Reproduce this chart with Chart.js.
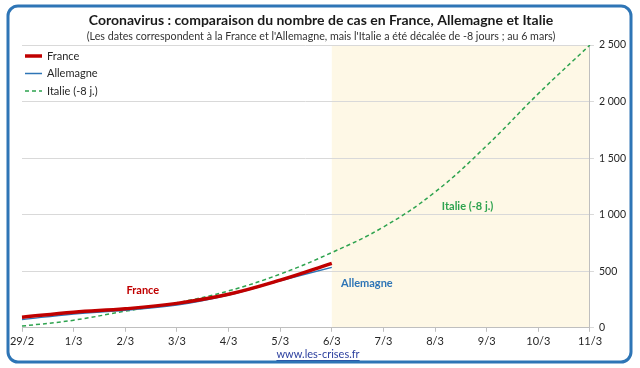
<!DOCTYPE html>
<html>
<head>
<meta charset="utf-8">
<script src="https://cdn.jsdelivr.net/npm/chart.js@4.4.1/dist/chart.umd.min.js"></script>
<style>
  html, body { margin: 0; padding: 0; background: #fff; }
  #wrap { position: relative; width: 640px; height: 368px; }
</style>
</head>
<body>
<div id="wrap"><canvas id="chart" width="640" height="368"></canvas></div>
<script>
const dates = ['29/2', '1/3', '2/3', '3/3', '4/3', '5/3', '6/3', '7/3', '8/3', '9/3', '10/3', '11/3'];
const france = [94, 138, 168, 216, 296, 421, 570];
const allemagne = [73, 123, 156, 201, 290, 415, 534];
const italie = [15, 67, 147, 221, 326, 475, 665, 891, 1200, 1610, 2070, 2500];
const yTicks = [0, 500, 1000, 1500, 2000, 2500];

const FONT = 'Lato, "Noto Sans", sans-serif';
const shadeFrom = 6; // index from which the background is shaded

const title = 'Coronavirus : comparaison du nombre de cas en France, Allemagne et Italie';
const subtitle = "(Les dates correspondent à la France et l'Allemagne, mais l'Italie a été décalée de -8 jours ; au 6 mars)";

// labels written next to the curves: [text, index, value, color]
const curveLabels = [
    ['France', 2.34, 330, '#C00000'],
    ['Allemagne', 6.68, 393, '#2E75B6'],
    ['Italie (-8 j.)', 8.63, 1071, '#2EA34F']
];

const decor = {
    id: 'decor',
    beforeDraw(chart) {
        const ctx = chart.ctx;
        const area = chart.chartArea;
        const x0 = chart.scales.x.getPixelForValue(shadeFrom);
        ctx.save();
        ctx.fillStyle = '#FEF8E6';
        ctx.fillRect(x0, area.top, area.right - x0, area.bottom - area.top);
        ctx.restore();
    },
    afterDraw(chart) {
        const ctx = chart.ctx;
        const xs = chart.scales.x;
        const ys = chart.scales.y;
        const area = chart.chartArea;
        ctx.save();
        ctx.textBaseline = 'middle';
        ctx.textAlign = 'center';

        // titles
        ctx.fillStyle = '#1a1a1a';
        ctx.font = 'bold 14px ' + FONT;
        ctx.fillText(title, 321, 20);
        ctx.fillStyle = '#333';
        ctx.font = '10.7px ' + FONT;
        ctx.fillText(subtitle, 321, 37);

        // legend, top left of the plot
        ctx.font = '11px ' + FONT;
        ctx.textAlign = 'left';
        chart.data.datasets.forEach((ds, i) => {
            const y = area.top + 11 + i * 17.5;
            ctx.strokeStyle = ds.borderColor;
            ctx.lineWidth = ds.borderWidth;
            ctx.setLineDash(ds.borderDash || []);
            ctx.beginPath();
            ctx.moveTo(area.left + 3, y);
            ctx.lineTo(area.left + 20, y);
            ctx.stroke();
            ctx.fillStyle = '#262626';
            ctx.fillText(ds.label, area.left + 25, y);
        });
        ctx.setLineDash([]);

        ctx.font = 'bold 11px ' + FONT;
        ctx.textAlign = 'center';
        curveLabels.forEach(l => {
            ctx.fillStyle = l[3];
            ctx.fillText(l[0], xs.getPixelForValue(l[1]), ys.getPixelForValue(l[2]));
        });

        // footer link
        ctx.font = '11px ' + FONT;
        ctx.fillStyle = '#2B3F9E';
        const t = 'www.les-crises.fr';
        const w = ctx.measureText(t).width;
        ctx.fillText(t, 318, 354);
        ctx.fillRect(318 - w / 2, 360, w, 1);

        // frame
        ctx.strokeStyle = '#2E75B6';
        ctx.lineWidth = 3;
        ctx.beginPath();
        ctx.roundRect(8, 6, 623, 356, 10);
        ctx.stroke();
        ctx.restore();
    }
};

const ctx = document.getElementById('chart').getContext('2d');
const chart = new Chart(ctx, {
    type: 'line',
    data: {
        labels: dates,
        datasets: [{
            label: 'France',
            data: france,
            borderColor: '#C00000',
            backgroundColor: '#C00000',
            borderWidth: 3.5,
            pointRadius: 0,
            tension: 0.4
        }, {
            label: 'Allemagne',
            data: allemagne,
            borderColor: '#2E75B6',
            backgroundColor: '#2E75B6',
            borderWidth: 1.5,
            pointRadius: 0,
            tension: 0.4
        }, {
            label: 'Italie (-8 j.)',
            data: italie,
            borderColor: '#2EA34F',
            backgroundColor: '#2EA34F',
            borderWidth: 1.5,
            borderDash: [4, 3],
            pointRadius: 0,
            tension: 0.4
        }]
    },
    options: {
        responsive: false,
        animation: false,
        layout: {
            padding: { left: 22, right: 9, top: 45, bottom: 17 }
        },
        plugins: {
            legend: { display: false },
            tooltip: { enabled: false }
        },
        scales: {
            x: {
                offset: false,
                grid: { drawOnChartArea: false, tickLength: 4, color: '#BFBFBF' },
                border: { color: '#BFBFBF' },
                ticks: {
                    autoSkip: false,
                    maxRotation: 0,
                    padding: 3,
                    color: '#262626',
                    font: { family: FONT, size: 11 }
                }
            },
            y: {
                position: 'right',
                min: 0,
                max: 2500,
                afterBuildTicks(scale) {
                    scale.ticks = yTicks.map(v => ({ value: v }));
                },
                grid: { color: '#D9D9D9', tickLength: 4 },
                border: { color: '#BFBFBF' },
                ticks: {
                    padding: 5,
                    color: '#262626',
                    font: { family: FONT, size: 10.5 },
                    callback: v => String(v).replace(/\B(?=(\d{3})+(?!\d))/g, ' ')
                }
            }
        }
    },
    plugins: [decor]
});
</script>
</body>
</html>
